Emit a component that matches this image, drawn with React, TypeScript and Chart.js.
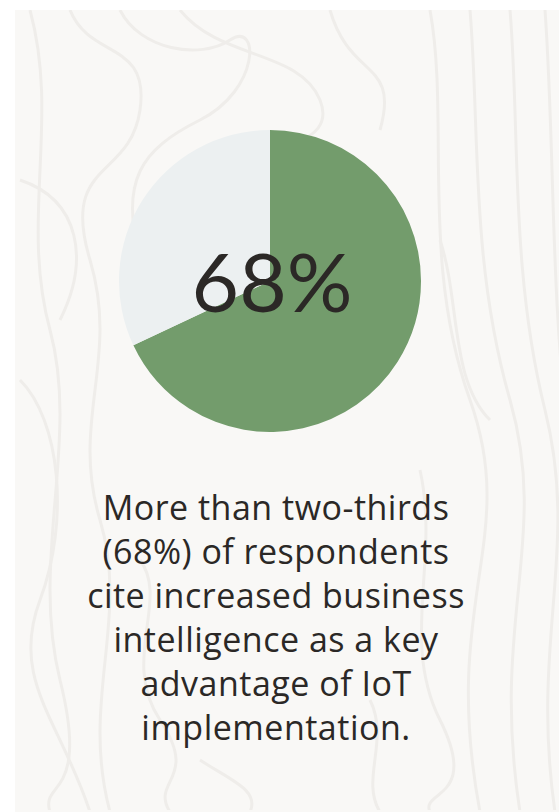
import React, { useEffect, useRef } from "react";
import { Chart, registerables } from "chart.js";

Chart.register(...registerables);

const categories = ["Cite increased business intelligence", "Other respondents"];
const values = [68, 32];
const sliceColors = ["#739c6c", "#ecf0f1"];
const centerLabel = "68%";
const captionLines = [
  "More than two-thirds",
  "(68%) of respondents",
  "cite increased business",
  "intelligence as a key",
  "advantage of IoT",
  "implementation.",
];

// decorative wood-grain background strokes
const grainPaths = [
  "M30 10 C60 120 20 220 50 330 S30 560 60 680 S40 780 50 812",
  "M70 10 C90 60 150 40 140 110 S60 160 90 260 S70 420 100 520 S80 700 110 812",
  "M120 10 C140 50 200 60 230 40 S260 90 200 120 S120 180 140 260",
  "M180 10 C220 60 300 50 320 100 S250 140 300 170",
  "M330 10 C350 80 400 60 380 130",
  "M430 10 C450 120 420 260 470 400 S440 600 480 812",
  "M470 10 C480 130 470 260 510 400 S490 620 520 812",
  "M510 10 C520 130 510 270 545 410 S530 640 555 812",
  "M545 10 C555 150 550 300 570 450",
  "M20 380 C60 420 70 520 40 600 S60 720 90 812",
  "M140 560 C170 600 120 660 160 720 S150 780 170 812",
  "M420 470 C440 560 400 640 440 720 S420 790 430 812",
  "M370 700 C390 740 360 780 380 812",
  "M200 760 C230 780 260 790 250 812",
  "M440 240 C460 300 450 380 490 420",
  "M20 180 C80 200 90 260 60 320",
];

const centerTextPlugin = {
  id: "centerText",
  afterDraw(chart: any) {
    const meta = chart.getDatasetMeta(0);
    const arc = meta.data[0];
    if (!arc) return;
    const { x, y } = arc;
    const ctx = chart.ctx;
    ctx.save();
    ctx.fillStyle = "#2b2826";
    ctx.font = "400 82px Lato, 'Open Sans', sans-serif";
    ctx.textAlign = "center";
    ctx.textBaseline = "alphabetic";
    ctx.fillText(centerLabel, x + 2, y + 31);
    ctx.restore();
  },
};

export default function App() {
  const canvasRef = useRef<HTMLCanvasElement | null>(null);

  useEffect(() => {
    if (!canvasRef.current) return;
    const chart = new Chart(canvasRef.current, {
      type: "pie",
      data: {
        labels: categories,
        datasets: [
          {
            data: values,
            backgroundColor: sliceColors,
            borderWidth: 0,
          },
        ],
      },
      options: {
        responsive: false,
        animation: false,
        layout: { padding: 0 },
        plugins: {
          legend: { display: false },
          tooltip: { enabled: false },
        },
      },
      plugins: [centerTextPlugin],
    });
    return () => chart.destroy();
  }, []);

  return (
    <div
      style={{
        position: "fixed",
        left: 0,
        top: 0,
        width: 559,
        height: 812,
        background: "#ffffff",
        overflow: "hidden",
      }}
    >
      <div
        style={{
          position: "absolute",
          left: 15,
          top: 10,
          width: 560,
          height: 810,
          background: "#f9f8f6",
          overflow: "hidden",
        }}
      >
        <svg
          width={560}
          height={810}
          style={{ position: "absolute", left: -15, top: -10 }}
        >
          {grainPaths.map((d, i) => (
            <path key={i} d={d} fill="none" stroke="#efedea" strokeWidth={3} />
          ))}
        </svg>
      </div>
      <canvas
        ref={canvasRef}
        width={302}
        height={302}
        style={{ position: "absolute", left: 119, top: 130, width: 302, height: 302 }}
      />
      <div
        style={{
          position: "absolute",
          left: 40,
          width: 472,
          top: 485,
          textAlign: "center",
          fontFamily: "'Open Sans', sans-serif",
          fontSize: 34,
          letterSpacing: "0.5px",
          lineHeight: "44px",
          color: "#2b2826",
        }}
      >
        {captionLines.map((l, i) => (
          <div key={i}>{l}</div>
        ))}
      </div>
    </div>
  );
}
